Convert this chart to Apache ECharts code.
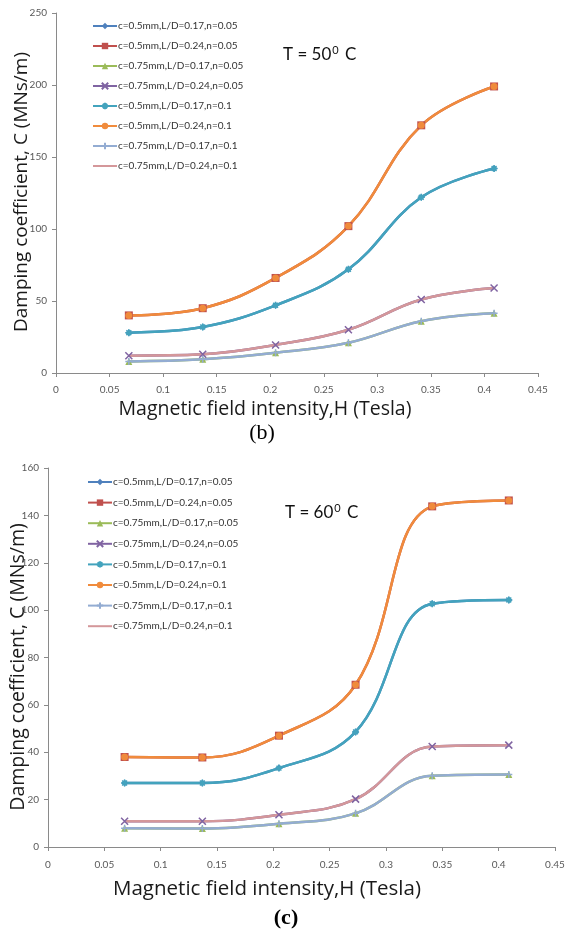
<!DOCTYPE html>
<html>
<head>
<meta charset="utf-8">
<script src="https://cdn.jsdelivr.net/npm/echarts@6/dist/echarts.min.js"></script>
<style>
  html, body { margin: 0; padding: 0; background: #fff; }
  #chart { width: 568px; height: 938px; }
</style>
</head>
<body>
<div id="chart"></div>
<script>
// magnetic field intensity H (Tesla), same for both temperatures
const H = [0.068, 0.137, 0.205, 0.273, 0.341, 0.409];

const seriesNames = [
  "c=0.5mm,L/D=0.17,n=0.05",
  "c=0.5mm,L/D=0.24,n=0.05",
  "c=0.75mm,L/D=0.17,n=0.05",
  "c=0.75mm,L/D=0.24,n=0.05",
  "c=0.5mm,L/D=0.17,n=0.1",
  "c=0.5mm,L/D=0.24,n=0.1",
  "c=0.75mm,L/D=0.17,n=0.1",
  "c=0.75mm,L/D=0.24,n=0.1",
];

// T = 50 C  (n=0.05 and n=0.1 curves lie on top of each other)
const t50_c05_ld017 = [28, 32, 47, 72, 122, 142];
const t50_c05_ld024 = [40, 45, 66, 102, 172, 199];
const t50_c075_ld017 = [8, 9.5, 14, 21, 36, 41.5];
const t50_c075_ld024 = [12, 13, 19.5, 30, 51, 59];

// T = 60 C
const t60_c05_ld017 = [27, 27, 33.3, 48.6, 102.7, 104.3];
const t60_c05_ld024 = [38, 37.8, 47, 68.5, 143.8, 146.3];
const t60_c075_ld017 = [7.9, 7.8, 9.8, 14.2, 30.1, 30.6];
const t60_c075_ld024 = [10.9, 10.9, 13.6, 20.2, 42.4, 43];

const colors = ["#4f81bd", "#c0504d", "#9bbb59", "#8064a2", "#43a3bd", "#f08b3c", "#93acd2", "#d4979a"];
const symbols = [
  "diamond",
  "rect",
  "triangle",
  "path://M0,0L10,10M10,0L0,10",
  "path://M5,0L5,10M0,5L10,5M1.5,1.5L8.5,8.5M8.5,1.5L1.5,8.5",
  "circle",
  "path://M5,0L5,10M0,5L10,5",
  "none",
];
const stroked = [false, false, false, true, true, false, true, false];

const pair = (ys) => ys.map((y, i) => [H[i], y]);

function makeSeries(idx, data) {
  return data.map((ys, i) => ({
    name: seriesNames[i],
    type: "line",
    xAxisIndex: idx,
    yAxisIndex: idx,
    smooth: 0.4,
    symbol: symbols[i],
    symbolSize: i === 1 ? 8 : 7,
    data: pair(ys),
    lineStyle: { width: 2.5, color: colors[i] },
    itemStyle: stroked[i]
      ? { color: colors[i], borderColor: colors[i], borderWidth: 1.5 }
      : { color: colors[i] },
  }));
}

const font = "Lato, 'Open Sans', sans-serif";
const titleFont = "'Open Sans', Lato, sans-serif";

function xAx(idx, margin) {
  return {
    type: "value",
    gridIndex: idx,
    min: 0,
    max: 0.45,
    interval: 0.05,
    splitLine: { show: false },
    axisLine: { lineStyle: { color: "#8a8a8a" } },
    axisTick: { lineStyle: { color: "#8a8a8a" }, length: 4 },
    axisLabel: {
      color: "#595959",
      fontSize: 10,
      fontFamily: font,
      margin: margin,
      formatter: (v) => String(+v.toFixed(2)),
    },
  };
}

function yAx(idx, max, step) {
  return {
    type: "value",
    gridIndex: idx,
    min: 0,
    max: max,
    interval: step,
    splitLine: { show: false },
    axisLine: { show: true, lineStyle: { color: "#8a8a8a" } },
    axisTick: { show: true, lineStyle: { color: "#8a8a8a" }, length: 4 },
    axisLabel: { color: "#595959", fontSize: 10, fontFamily: font, margin: 9 },
  };
}

// last entry has no marker: hide the legend's fallback dot
const legendData = seriesNames.map((n, i) =>
  symbols[i] === "none" ? { name: n, itemStyle: { opacity: 0 } } : { name: n }
);

function legendAt(left, top, gap) {
  return {
    orient: "vertical",
    left: left,
    top: top,
    itemWidth: 24,
    itemHeight: 8,
    itemGap: gap,
    data: legendData,
    selectedMode: false,
    textStyle: { color: "#333", fontSize: 10, fontFamily: font, lineHeight: 14, padding: [0, 0, 0, -4] },
    padding: 0,
  };
}

function label(x, y, text, size, rot) {
  return {
    type: "text",
    x: x,
    y: y,
    rotation: rot ? Math.PI / 2 : 0,
    style: { text: text, fontSize: size, fontFamily: titleFont, fill: "#1a1a1a", align: "center", verticalAlign: "middle" },
  };
}

function tempLabel(left, top, t) {
  return {
    type: "text",
    left: left,
    top: top,
    style: {
      text: "{a|T = " + t + "}{s|0}{a| C}",
      rich: {
        a: { fontSize: 17, fontFamily: font, fill: "#111" },
        s: { fontSize: 11, fontFamily: font, fill: "#111", verticalAlign: "top", padding: [0, 2, 8, 1] },
      },
    },
  };
}

const chart = echarts.init(document.getElementById("chart"));
chart.setOption({
  backgroundColor: "#fff",
  animation: false,
  grid: [
    { left: 56, top: 13, width: 482, height: 360 },
    { left: 48, top: 468, width: 507, height: 379 },
  ],
  xAxis: [xAx(0, 12), xAx(1, 13)],
  yAxis: [yAx(0, 250, 50), yAx(1, 160, 20)],
  legend: [legendAt(92, 19, 6), legendAt(87, 475, 6.6)],
  graphic: [
    tempLabel(283, 45, 50),
    tempLabel(285, 503, 60),
    label(265, 409, "Magnetic field intensity,H (Tesla)", 19.5, false),
    label(22, 192, "Damping coefficient, C (MNs/m)", 19, true),
    label(267, 889, "Magnetic field intensity,H (Tesla)", 20.5, false),
    label(18, 667, "Damping coefficient, C (MNs/m)", 19.5, true),
    {
      type: "text",
      x: 262,
      y: 433,
      style: { text: "(b)", fontSize: 22, fontFamily: "'Liberation Serif', serif", fill: "#000", align: "center", verticalAlign: "middle" },
    },
    {
      type: "text",
      x: 286,
      y: 918,
      style: { text: "(c)", fontSize: 22, fontWeight: "bold", fontFamily: "'Liberation Serif', serif", fill: "#000", align: "center", verticalAlign: "middle" },
    },
  ],
  series: [
    ...makeSeries(0, [
      t50_c05_ld017, t50_c05_ld024, t50_c075_ld017, t50_c075_ld024,
      t50_c05_ld017, t50_c05_ld024, t50_c075_ld017, t50_c075_ld024,
    ]),
    ...makeSeries(1, [
      t60_c05_ld017, t60_c05_ld024, t60_c075_ld017, t60_c075_ld024,
      t60_c05_ld017, t60_c05_ld024, t60_c075_ld017, t60_c075_ld024,
    ]),
  ],
});
</script>
</body>
</html>
